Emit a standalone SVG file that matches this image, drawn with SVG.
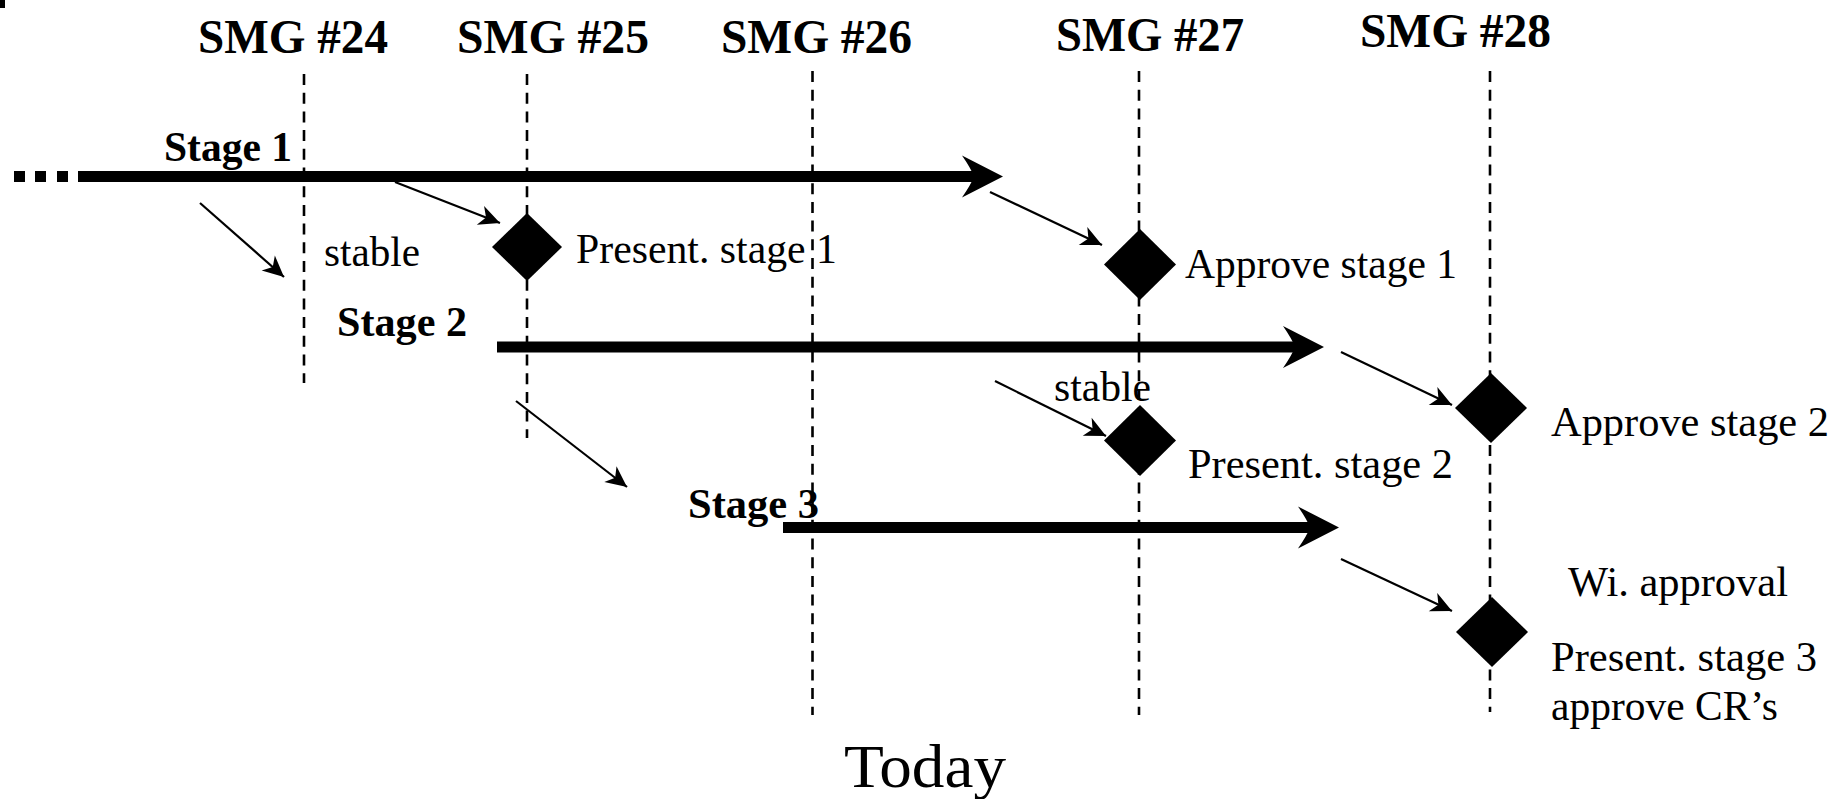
<svg xmlns="http://www.w3.org/2000/svg" width="1836" height="799" viewBox="0 0 1836 799">
<style>
  text { font-family: "Liberation Serif", "Times New Roman", serif; fill: #000; }
  .hdr { font-size: 48px; font-weight: bold; }
  .stg { font-size: 42px; font-weight: bold; }
  .lbl { font-size: 42px; }
  .today { font-size: 62px; }
  .grid { stroke: #000; stroke-width: 2.6; stroke-dasharray: 11 7.7; fill: none; }
  .thick { stroke: #000; stroke-width: 11; fill: none; }
  .thin { stroke: #000; stroke-width: 2.2; fill: none; marker-end: url(#ah); }
  .dia { fill: #000; }
</style>
<defs>
  <marker id="ah" markerUnits="userSpaceOnUse" viewBox="-23 -12 25 24" markerWidth="25" markerHeight="24" refX="0" refY="0" orient="auto">
    <path d="M0,0 L-21,-10 L-15,0 L-21,10 Z" fill="#000"/>
  </marker>
  <marker id="bh" markerUnits="userSpaceOnUse" viewBox="-43 -23 45 46" markerWidth="45" markerHeight="46" refX="-29" refY="0" orient="auto">
    <path d="M0,0 L-41,-21 Q-32,-8 -29,0 Q-32,8 -41,21 Z" fill="#000"/>
  </marker>
</defs>
<rect width="1836" height="799" fill="#fff"/>
<rect x="0" y="0" width="5" height="8" fill="#000"/>

<g id="smg24">
  <text class="hdr" x="198" y="53" textLength="190" lengthAdjust="spacingAndGlyphs">SMG #24</text>
  <line class="grid" x1="304" y1="74" x2="304" y2="383"/>
</g>
<g id="smg25">
  <text class="hdr" x="457" y="53" textLength="192" lengthAdjust="spacingAndGlyphs">SMG #25</text>
  <line class="grid" x1="527" y1="74" x2="527" y2="438"/>
</g>
<g id="smg26">
  <text class="hdr" x="721" y="53" textLength="191" lengthAdjust="spacingAndGlyphs">SMG #26</text>
  <line class="grid" x1="812.5" y1="71" x2="812.5" y2="715"/>
</g>
<g id="smg27">
  <text class="hdr" x="1056" y="51" textLength="188" lengthAdjust="spacingAndGlyphs">SMG #27</text>
  <line class="grid" x1="1139" y1="71" x2="1139" y2="715"/>
</g>
<g id="smg28">
  <text class="hdr" x="1360" y="47" textLength="191" lengthAdjust="spacingAndGlyphs">SMG #28</text>
  <line class="grid" x1="1490" y1="71" x2="1490" y2="712"/>
</g>

<g id="stage1">
  <rect x="14" y="171" width="11" height="11" fill="#000"/>
  <rect x="35" y="171" width="11" height="11" fill="#000"/>
  <rect x="57" y="171" width="11" height="11" fill="#000"/>
  <text class="stg" x="164" y="161" textLength="128" lengthAdjust="spacingAndGlyphs">Stage 1</text>
</g>
<g id="stage2">
  <text class="stg" x="337" y="336" textLength="130" lengthAdjust="spacingAndGlyphs">Stage 2</text>
</g>
<g id="stage3">
  <text class="stg" x="688" y="518" textLength="131" lengthAdjust="spacingAndGlyphs">Stage 3</text>
</g>

<g id="connectors">
  <line class="thick" x1="78" y1="176.5" x2="974" y2="176.5" marker-end="url(#bh)"/>
  <line class="thick" x1="497" y1="347" x2="1295" y2="347" marker-end="url(#bh)"/>
  <line class="thick" x1="783" y1="527.5" x2="1310" y2="527.5" marker-end="url(#bh)"/>
  <line class="thin" x1="200" y1="203" x2="284" y2="277"/>
  <line class="thin" x1="395" y1="182" x2="500" y2="223"/>
  <line class="thin" x1="990" y1="192" x2="1102" y2="245"/>
  <line class="thin" x1="1341" y1="352" x2="1452" y2="405"/>
  <line class="thin" x1="516" y1="401" x2="627" y2="487"/>
  <line class="thin" x1="995" y1="381" x2="1106" y2="436"/>
  <line class="thin" x1="1341" y1="559" x2="1452" y2="611"/>
</g>

<g id="stable1">
  <text class="lbl" x="324" y="266" textLength="96" lengthAdjust="spacingAndGlyphs">stable</text>
</g>
<g id="present1">
  <path class="dia" d="M527,213 L562,247 L527,281 L492,247 Z"/>
  <text class="lbl" x="576" y="263" textLength="261" lengthAdjust="spacingAndGlyphs">Present. stage 1</text>
</g>
<g id="approve1">
  <path class="dia" d="M1140,229 L1176,264.5 L1140,300 L1104,264.5 Z"/>
  <text class="lbl" x="1185" y="278" textLength="272" lengthAdjust="spacingAndGlyphs">Approve stage 1</text>
</g>
<g id="stable2">
  <text class="lbl" x="1054" y="401" textLength="97" lengthAdjust="spacingAndGlyphs">stable</text>
</g>
<g id="approve2">
  <path class="dia" d="M1491,373 L1527,408 L1491,443 L1455,408 Z"/>
  <text class="lbl" x="1551" y="436" textLength="278" lengthAdjust="spacingAndGlyphs">Approve stage 2</text>
</g>
<g id="present2">
  <path class="dia" d="M1140,405 L1176,440.5 L1140,476 L1104,440.5 Z"/>
  <text class="lbl" x="1188" y="478" textLength="265" lengthAdjust="spacingAndGlyphs">Present. stage 2</text>
</g>
<g id="present3">
  <path class="dia" d="M1492,597 L1528,632 L1492,667 L1456,632 Z"/>
  <text class="lbl" x="1568" y="596" textLength="220" lengthAdjust="spacingAndGlyphs">Wi. approval</text>
  <text class="lbl" x="1551" y="671" textLength="266" lengthAdjust="spacingAndGlyphs">Present. stage 3</text>
  <text class="lbl" x="1551" y="720" textLength="227" lengthAdjust="spacingAndGlyphs">approve CR’s</text>
</g>
<g id="today">
  <text class="today" x="844" y="787" textLength="162" lengthAdjust="spacingAndGlyphs">Today</text>
</g>
</svg>
